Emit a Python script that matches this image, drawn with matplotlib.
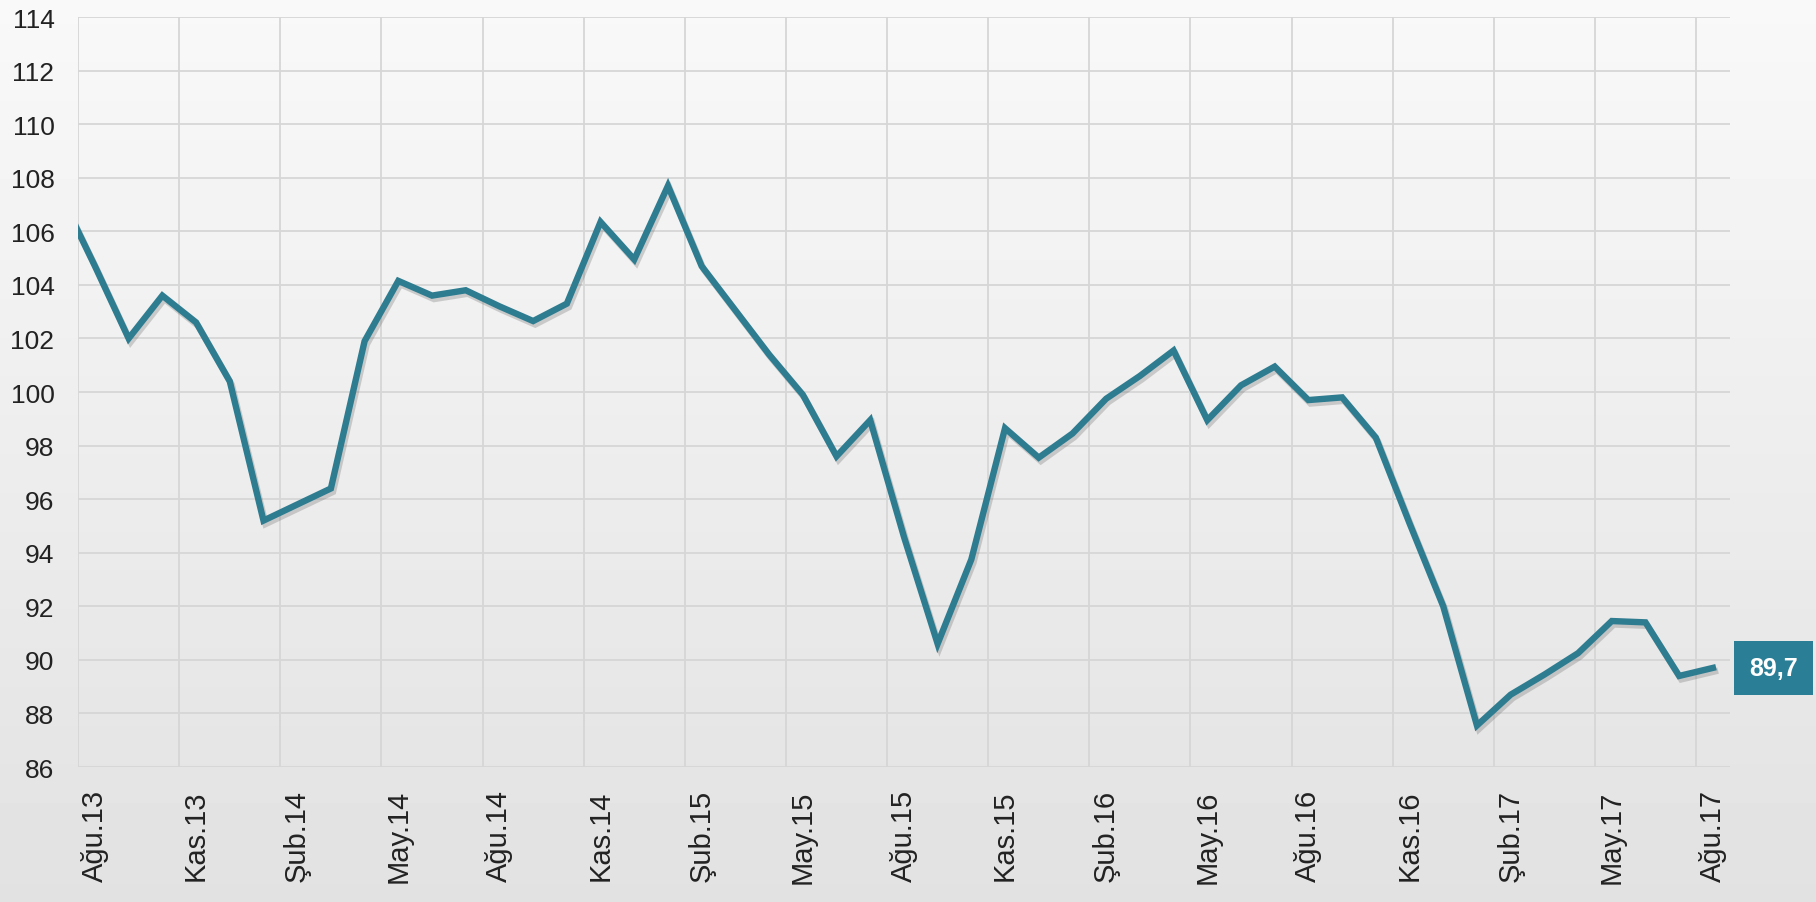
import matplotlib
matplotlib.use('Agg')
import matplotlib.pyplot as plt
import matplotlib.patheffects as pe
import numpy as np

# ay kisaltmalari
aylar = ['Oca', 'Şub', 'Mar', 'Nis', 'May', 'Haz', 'Tem', 'Ağu', 'Eyl', 'Eki', 'Kas', 'Ara']

# Tem.13 .. Ağu.17 (ilk deger grafigin sol kenarinda kesiliyor)
endeks = [107.3, 104.7, 102.0, 103.6, 102.6, 100.4, 95.2, 95.8, 96.4, 101.9,
          104.15, 103.6, 103.8, 103.2, 102.65, 103.3, 106.35, 104.95, 107.7, 104.7,
          103.05, 101.4, 99.9, 97.6, 98.95, 94.6, 90.6, 93.75, 98.65, 97.55,
          98.45, 99.75, 100.6, 101.55, 98.95, 100.25, 100.95, 99.7, 99.8, 98.3,
          95.1, 92.0, 87.55, 88.7, 89.45, 90.25, 91.45, 91.4, 89.4, 89.7]
y_ticks = list(range(86, 115, 2))

x = np.arange(len(endeks))
etiketler = []
for k in x:
    m = (6 + k) % 12
    yil = 13 + (6 + k) // 12
    etiketler.append('%s.%d' % (aylar[m], yil))

fig = plt.figure(figsize=(18.16, 9.03), dpi=100)

# arka plan gradyani
bg = fig.add_axes([0, 0, 1, 1])
bg.imshow(np.linspace(0.975, 0.885, 256).reshape(-1, 1), cmap='gray', vmin=0, vmax=1,
          aspect='auto', extent=[0, 1, 0, 1])
bg.axis('off')

ax = fig.add_axes([0.043, 0.1495, 0.9095, 0.8305])
ax.set_facecolor('none')

ax.plot(x, endeks, color='#2E7C90', lw=4.6, solid_joinstyle='miter', zorder=3,
        path_effects=[pe.SimpleLineShadow(offset=(1.5, -2.5), shadow_color='#555555', alpha=0.25),
                      pe.Normal()])

ax.set_xlim(0.5, len(endeks) - 0.5)
ax.set_ylim(86, 114)
ax.set_yticks(y_ticks)
ax.set_yticklabels([str(t) for t in y_ticks], family=['Liberation Sans', 'DejaVu Sans'],
                   fontsize=19, color='#222222')

ax.set_xticks(x[1::3])
ax.set_xticklabels(etiketler[1::3], rotation=90, family=['Liberation Sans', 'DejaVu Sans'],
                   fontsize=21, color='#222222')
ax.set_xticks(np.arange(0.5, len(endeks) - 1, 3), minor=True)

ax.tick_params(axis='y', length=0, pad=17)
ax.tick_params(axis='x', which='both', length=0, pad=16)
ax.grid(axis='y', color='#d6d6d6', lw=1.3)
ax.grid(axis='x', which='minor', color='#d6d6d6', lw=1.3)
ax.set_axisbelow(True)
for s in ax.spines.values():
    s.set_visible(False)

# son deger kutusu
son = ('%.1f' % endeks[-1]).replace('.', ',')
ax.annotate(son, xy=(x[-1], endeks[-1]), xytext=(26, 0), textcoords='offset points',
            ha='left', va='center', color='white', fontsize=18, fontweight='bold',
            family=['Liberation Sans', 'DejaVu Sans'],
            bbox=dict(boxstyle='square,pad=0.6', fc='#2A7E96', ec='none'),
            annotation_clip=False)

fig.savefig('out.png', dpi=100)
